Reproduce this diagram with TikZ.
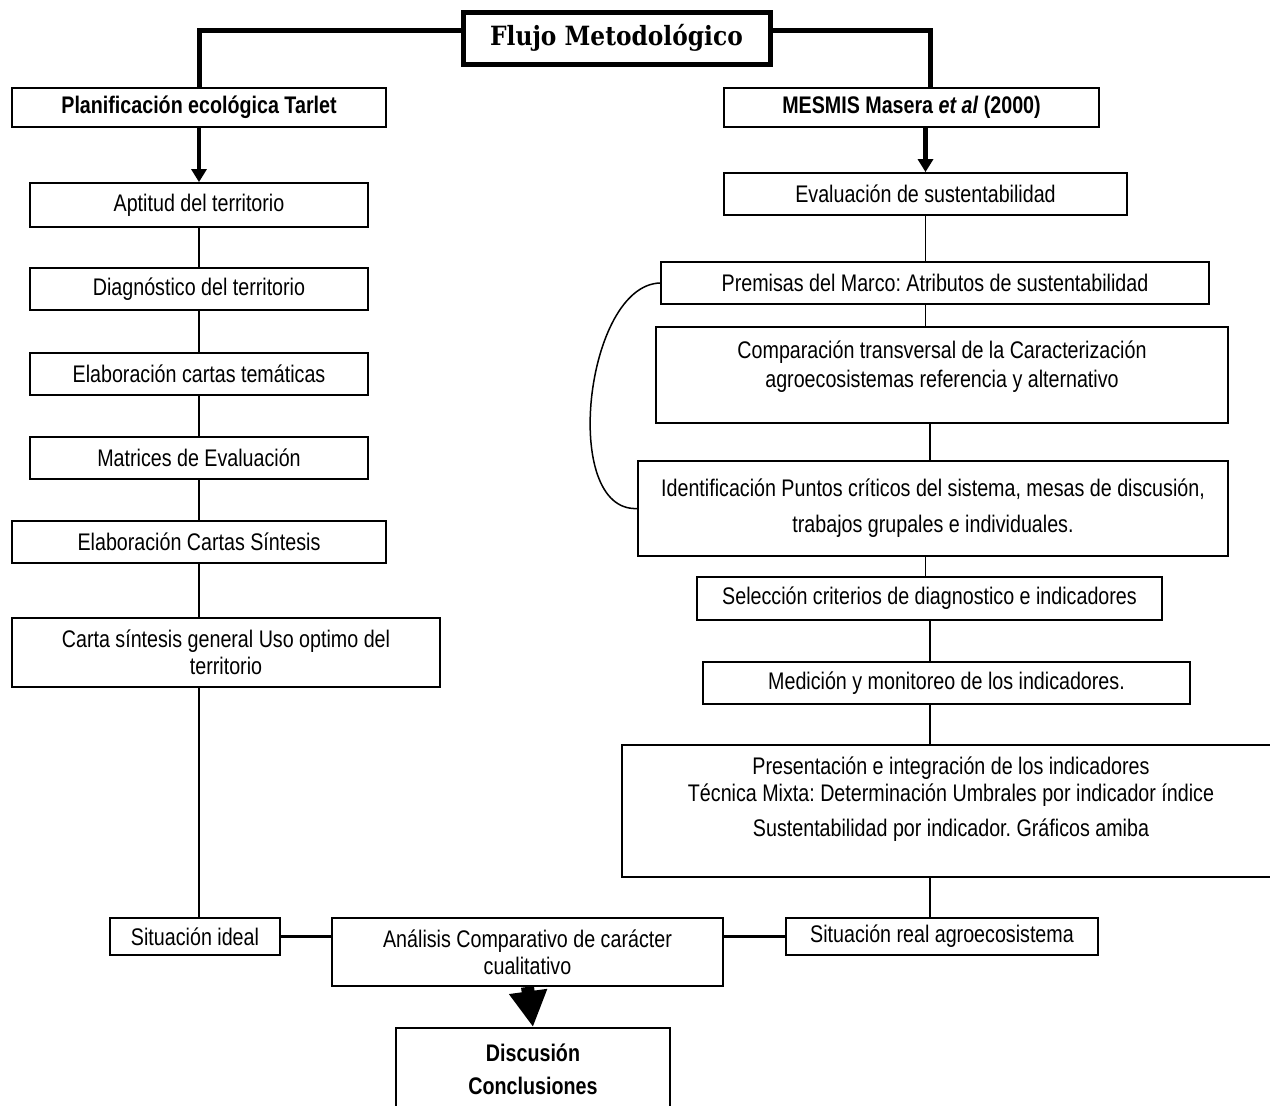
\documentclass[tikz,border=0pt]{standalone}
\usepackage{fontspec}
\setmainfont[FakeStretch=0.82]{Liberation Sans}
\newfontfamily\titlefont[FakeStretch=0.88]{DejaVu Serif}
\usetikzlibrary{arrows.meta}
\frenchspacing
\begin{document}
\begin{tikzpicture}[x=1pt,y=-1pt,
  box/.style={draw, line width=1.8pt, inner sep=0pt, align=center,
    font=\fontsize{24}{27}\selectfont},
  bbox/.style={box, font=\fontsize{24}{27}\selectfont\bfseries},
  titlebox/.style={draw, line width=5pt, inner sep=0pt,
    font=\fontsize{26.5}{30}\selectfont\titlefont\bfseries},
  link/.style={line width=1.5pt},
  heavy/.style={line width=5pt},
  flowarrow/.style={line width=4.5pt, -{Triangle[length=13pt,width=15pt]}},
  bigarrow/.style={line width=13pt, -{Triangle[length=36pt,width=36pt]}}
]
\clip (0,0) rectangle (1270,1106);
\fill[white] (0,0) rectangle (1270,1106);

% heading
\node[titlebox, minimum width=307pt, minimum height=52pt] (title) at (616.5,38) {Flujo Metodológico};

% left column: ecological planning
\node[bbox, minimum width=374pt, minimum height=39pt] (plan) at (199,107.5) {Planificación ecológica Tarlet};
\node[box, minimum width=338pt, minimum height=44pt] (apt) at (199,205) {Aptitud del territorio};
\node[box, minimum width=338pt, minimum height=42pt] (diag) at (199,289) {Diagnóstico del territorio};
\node[box, minimum width=338pt, minimum height=42pt] (tem) at (199,374) {Elaboración cartas temáticas};
\node[box, minimum width=338pt, minimum height=42pt] (mat) at (199,458) {Matrices de Evaluación};
\node[box, minimum width=374pt, minimum height=42pt] (sint) at (199,542) {Elaboración Cartas Síntesis};
\node[box, minimum width=428pt, minimum height=69pt] (gen) at (226,652.5) {Carta síntesis general Uso optimo del\\territorio};

% right column: MESMIS
\node[bbox, minimum width=375pt, minimum height=39pt] (mesmis) at (911.5,107.5) {MESMIS Masera \textit{et al} (2000)};
\node[box, minimum width=403pt, minimum height=42pt] (eval) at (925.5,194) {Evaluación de sustentabilidad};
\node[box, minimum width=548pt, minimum height=42pt] (prem) at (935,283) {Premisas del Marco: Atributos de sustentabilidad};
\node[box, minimum width=572pt, minimum height=96pt,
  label={[align=center, yshift=8pt, font=\fontsize{24}{29}\selectfont]center:Comparación transversal de la Caracterización\\agroecosistemas referencia y alternativo}] (comp) at (942,375) {};
\node[box, minimum width=590pt, minimum height=95pt, font=\fontsize{24}{36}\selectfont] (ident) at (933,508.5) {Identificación Puntos críticos del sistema, mesas de discusión,\\trabajos grupales e individuales.};
\node[box, minimum width=465pt, minimum height=43pt] (sel) at (929.5,598.5) {Selección criterios de diagnostico e indicadores};
\node[box, minimum width=487pt, minimum height=42pt] (med) at (946.5,683) {Medición y monitoreo de los indicadores.};
\node[box, minimum width=658pt, minimum height=132pt,
  label={[align=center, yshift=12pt, font=\fontsize{24}{27}\selectfont]center:Presentación e integración de los indicadores\\Técnica Mixta: Determinación Umbrales por indicador índice\\[8pt]Sustentabilidad por indicador. Gráficos amiba}] (pres) at (951,811) {};

% synthesis row
\node[box, minimum width=170pt, minimum height=37pt] (ideal) at (195,936.5) {Situación ideal};
\node[box, minimum width=391pt, minimum height=68pt] (anal) at (527.5,952) {Análisis Comparativo de carácter\\cualitativo};
\node[box, minimum width=312pt, minimum height=37pt] (real) at (942,936.5) {Situación real agroecosistema};
\node[bbox, minimum width=274pt, minimum height=82pt, font=\fontsize{24}{33}\selectfont\bfseries] (disc) at (533,1069) {Discusión\\Conclusiones};

\coordinate (axis) at (930,0);

% heading branches
\draw[heavy] ([yshift=8pt]title.west) -| (plan.north);
\draw[heavy] ([yshift=8pt]title.east) -| ([xshift=18.5pt]mesmis.north);

% left chain
\draw[flowarrow] (plan.south) -- (apt.north);
\draw[link] (apt) -- (diag);
\draw[link] (diag) -- (tem);
\draw[link] (tem) -- (mat);
\draw[link] (mat) -- (sint);
\draw[link] (sint.south) -- (sint.south |- gen.north);
\draw[link] (gen.south -| plan.south) -- (ideal.north -| plan.south);

% right chain
\draw[flowarrow] (mesmis.south -| eval.north) -- (eval.north);
\draw[link] (eval.south) -- (eval.south |- prem.north);
\draw[link] (prem.south -| eval.south) -- (comp.north -| eval.south);
\draw[link] (comp.south -| axis) -- (ident.north -| axis);
\draw[link] (ident.south -| eval.south) -- (sel.north -| eval.south);
\draw[link] (sel.south -| axis) -- (med.north -| axis);
\draw[link] (med.south -| axis) -- (pres.north -| axis);
\draw[link] (pres.south -| axis) -- (real.north -| axis);
\draw[link] (prem.west) .. controls (585,285) and (560,512) .. (ident.west);

% comparison and conclusion
\draw[line width=3pt] (ideal.east) -- (ideal.east -| anal.west);
\draw[line width=3pt] (real.west -| anal.east) -- (real.west);
\draw[bigarrow] (anal.south) -- (disc.north);
\end{tikzpicture}
\end{document}
